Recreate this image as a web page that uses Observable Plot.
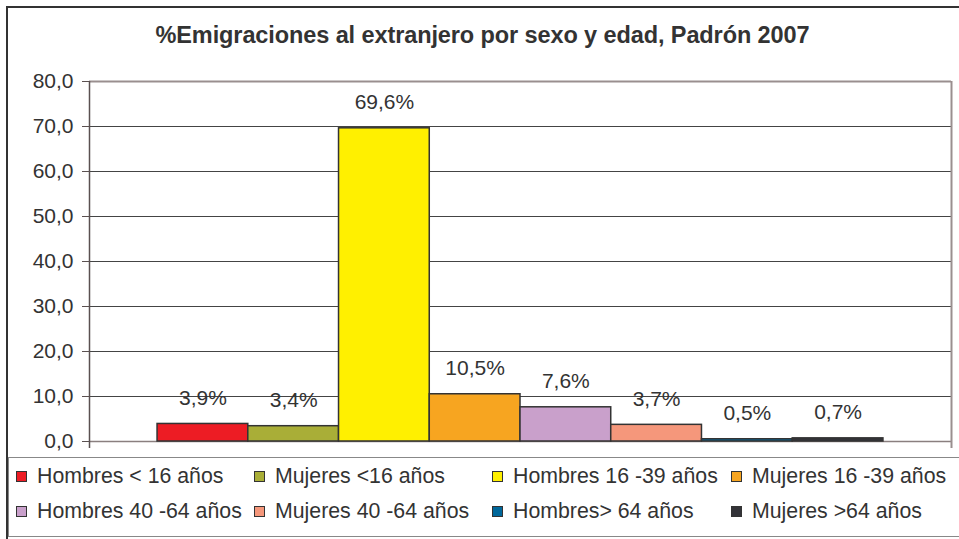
<!DOCTYPE html>
<html>
<head>
<meta charset="utf-8">
<script src="https://cdn.jsdelivr.net/npm/d3@7"></script>
<script src="https://cdn.jsdelivr.net/npm/@observablehq/plot@0.6"></script>
<style>
  body { margin: 0; background: #fff; font-family: "Liberation Sans", Arial, sans-serif; }
  #chart { position: relative; width: 959px; height: 539px; overflow: hidden; background: #fff; }
  #outer { position: absolute; left: 6px; top: 6px; width: 1000px; height: 1000px; border-left: 2px solid #333; border-top: 2px solid #333; box-sizing: border-box; }
  #title { position: absolute; left: 6px; top: 21px; width: 953px; text-align: center; font-size: 23.5px; font-weight: bold; color: #333; line-height: 28px; letter-spacing: -0.1px; }
  #plot { position: absolute; left: 0; top: 60px; }
  #legend { position: absolute; left: 8px; top: 457px; width: 1000px; height: 80px; border: 1.5px solid #888; box-sizing: border-box; padding: 1px 0 0 7px; display: grid; grid-template-columns: 238px 238px 239px 239px; grid-auto-rows: 35px; }
  .item { display: flex; align-items: center; font-size: 21.3px; color: #333; white-space: nowrap; }
  .sw { width: 9px; height: 9px; border: 1px solid #333; margin-right: 10px; flex: none; }
</style>
</head>
<body>
<div id="chart">
  <div id="outer"></div>
  <div id="title"></div>
  <div id="plot"></div>
  <div id="legend"></div>
</div>
<script>
const title = "%Emigraciones al extranjero por sexo y edad, Padrón 2007";
const series = [
  "Hombres < 16 años",
  "Mujeres <16 años",
  "Hombres 16 -39 años",
  "Mujeres 16 -39 años",
  "Hombres 40 -64 años",
  "Mujeres 40 -64 años",
  "Hombres> 64 años",
  "Mujeres >64 años"
];
const values = [3.9, 3.4, 69.6, 10.5, 7.6, 3.7, 0.5, 0.7];
const colors = ["#ED1C24", "#A9AE37", "#FFF000", "#F7A520", "#C9A0CB", "#F5977B", "#00679A", "#333338"];
const yTicks = [0, 10, 20, 30, 40, 50, 60, 70, 80];

const fmt = d => d.toFixed(1).replace(".", ",");
const data = series.map((s, i) => ({serie: s, i, value: values[i]}));
const pad = 0.75;
const x0 = -pad, x1 = series.length + pad;
const yMin = yTicks[0], yMax = yTicks[yTicks.length - 1];

document.getElementById("title").textContent = title;

const chart = Plot.plot({
  width: 959,
  height: 396,
  marginLeft: 89,
  marginRight: 8,
  marginTop: 21,
  marginBottom: 15,
  style: {fontFamily: "'Liberation Sans', Arial, sans-serif", color: "#333", background: "transparent", overflow: "visible"},
  x: {domain: [x0, x1], axis: null},
  y: {domain: [yMin, yMax], axis: null},
  color: {domain: series, range: colors},
  marks: [
    Plot.ruleY(yTicks.filter(d => d > yMin && d < yMax), {stroke: "#444", strokeWidth: 1}),
    Plot.ruleY([yMax], {stroke: "#9a8f8f", strokeWidth: 2}),
    Plot.ruleY([yMin], {stroke: "#8a7f7f", strokeWidth: 1.5}),
    Plot.rectY(data, {x1: "i", x2: d => d.i + 1, y: "value", fill: "serie", stroke: "#333", strokeWidth: 1.5}),
    Plot.ruleX([x0], {y1: yMax, y2: yMin, insetBottom: -7, stroke: "#5a5050", strokeWidth: 1.5}),
    Plot.ruleX([x1], {y1: yMax, y2: yMin, insetBottom: -7, stroke: "#9a8f8f", strokeWidth: 2}),
    Plot.axisY({ticks: yTicks, tickFormat: fmt, tickSize: 7, tickPadding: 9, fontSize: 21, label: null, stroke: "#5a5050"}),
    Plot.text(data, {x: d => d.i + 0.5, y: "value", text: d => fmt(d.value) + "%", dy: -26, fontSize: 21, fill: "#333"})
  ]
});
document.getElementById("plot").appendChild(chart);

const legend = document.getElementById("legend");
series.forEach((s, i) => {
  const item = document.createElement("div");
  item.className = "item";
  const sw = document.createElement("span");
  sw.className = "sw";
  sw.style.background = colors[i];
  const t = document.createElement("span");
  t.textContent = s;
  item.appendChild(sw);
  item.appendChild(t);
  legend.appendChild(item);
});
</script>
</body>
</html>
